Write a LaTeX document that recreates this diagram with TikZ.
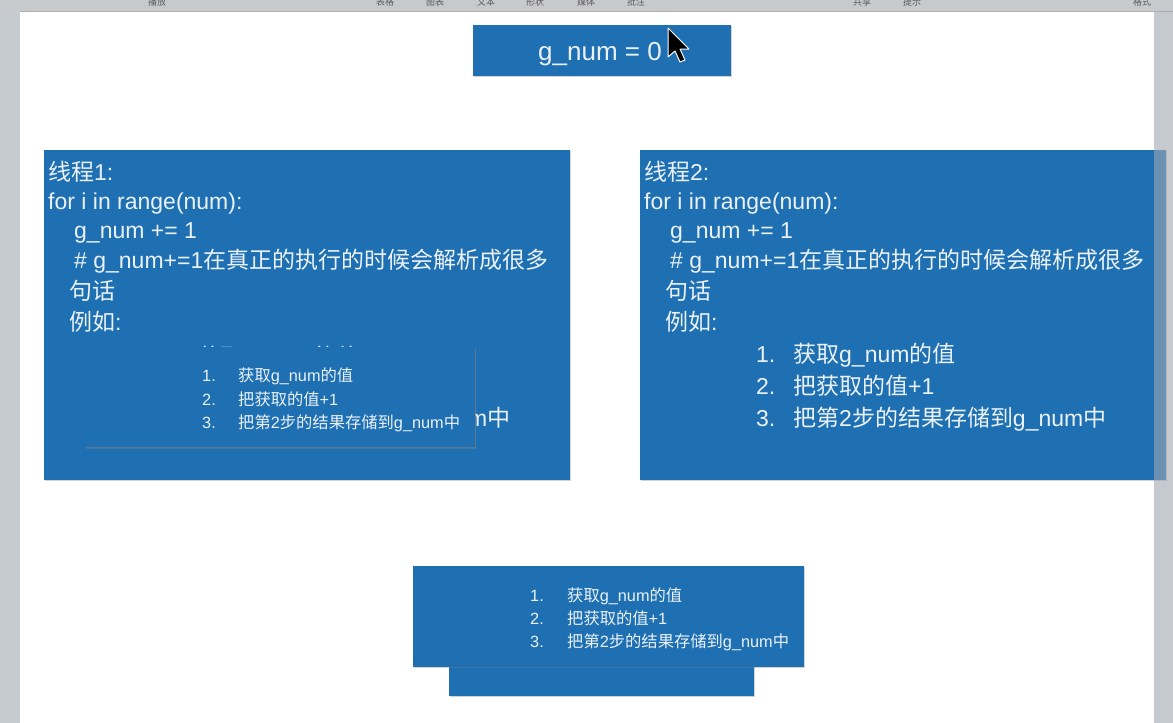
\documentclass[tikz,border=0pt]{standalone}
\usepackage{fontspec}
\setmainfont{Liberation Sans}
\newfontfamily\cjk{Noto Sans CJK SC}
\newcommand{\zh}[1]{{\cjk #1}}
\usetikzlibrary{shadows}
\definecolor{kblue}{RGB}{30,112,178}
\definecolor{ktext}{RGB}{234,241,248}
\definecolor{ktool}{RGB}{200,201,204}
\definecolor{kleft}{RGB}{198,202,209}
\definecolor{kside}{RGB}{160,167,178}
\begin{document}
\begin{tikzpicture}[x=1pt,y=-1pt,
  box/.style={fill=kblue, draw=none, inner sep=0pt, drop shadow={shadow xshift=0.8pt, shadow yshift=-1.4pt, opacity=0.35}},
  big/.style={text=ktext, font=\fontsize{23}{23}\selectfont, inner sep=0pt, anchor=base west},
  small/.style={text=ktext, font=\fontsize{16.3}{16.3}\selectfont, inner sep=0pt, anchor=base west},
  tool/.style={text=black!65, font=\cjk\fontsize{9}{9}\selectfont, inner sep=0pt},
]
\fill[white] (0,0) rectangle (1173,723);
\useasboundingbox (0,0) rectangle (1173,723);
% window chrome
\fill[ktool] (0,0) rectangle (1173,11);
\draw[black!30, line width=0.6pt] (0,11) -- (1173,11);
\fill[kleft] (0,11.3) rectangle (20,723);
\node[tool] (tb1) at (157,2.5) {播放};
\node[tool] (tb2) at (385,2.5) {表格};
\node[tool] (tb3) at (435,2.5) {图表};
\node[tool] (tb4) at (486,2.5) {文本};
\node[tool] (tb5) at (535,2.5) {形状};
\node[tool] (tb6) at (586,2.5) {媒体};
\node[tool] (tb7) at (636,2.5) {批注};
\node[tool] (tb8) at (862,2.5) {共享};
\node[tool] (tb9) at (912,2.5) {提示};
\node[tool] (tb10) at (1142,2.5) {格式};

% top box
\node[box, minimum width=258, minimum height=51] (gbox) at (602,50.5) {};
\node[big, font=\fontsize{26}{26}\selectfont] (gtxt) at (538,60) {g\_num = 0};
% cursor
\draw[fill=black, draw=white, line width=1pt, line join=round]
  (668,28) -- (668,57) -- (675,51) -- (680,62) -- (685,60) -- (680,49) -- (689,49) -- cycle;

% left box (thread 1)
\node[box, minimum width=526, minimum height=330] (t1) at (307,315) {};
\node[big] (a1) at (48,180) {\zh{线程}1:};
\node[big] (a2) at (48,209) {for i in range(num):};
\node[big] (a3) at (74,238) {g\_num += 1};
\node[big] (a4) at (74,268) {\# g\_num+=1\zh{在真正的执行的时候会解析成很多}};
\node[big] (a5) at (69,299) {\zh{句话}};
\node[big] (a6) at (69,330) {\zh{例如}:};
\node[big] (a7n) at (160,365) {1.};
\node[big] (a7) at (197,365) {\zh{获取}g\_num\zh{的值}};
\node[big] (a8n) at (160,396) {2.};
\node[big] (a8) at (197,396) {\zh{把获取的值}+1};
\node[big] (a9n) at (160,426) {3.};
\node[big] (a9) at (197,426) {\zh{把第}2\zh{步的结果存储到}g\_num\zh{中}};
% overlay copy of the list
\node[box, minimum width=390, minimum height=100, drop shadow={shadow xshift=0.6pt, shadow yshift=-2.2pt, opacity=0.4}] (ov) at (280,397) {};
\node[small] (o1n) at (202,381) {1.};
\node[small] (o1) at (238,381) {\zh{获取}g\_num\zh{的值}};
\node[small] (o2n) at (202,405) {2.};
\node[small] (o2) at (238,405) {\zh{把获取的值}+1};
\node[small] (o3n) at (202,428) {3.};
\node[small] (o3) at (238,428) {\zh{把第}2\zh{步的结果存储到}g\_num\zh{中}};

% right box (thread 2)
\node[box, minimum width=526, minimum height=330] (t2) at (903,315) {};
\node[big] (b1) at (644,180) {\zh{线程}2:};
\node[big] (b2) at (644,209) {for i in range(num):};
\node[big] (b3) at (670,238) {g\_num += 1};
\node[big] (b4) at (670,268) {\# g\_num+=1\zh{在真正的执行的时候会解析成很多}};
\node[big] (b5) at (665,299) {\zh{句话}};
\node[big] (b6) at (665,330) {\zh{例如}:};
\node[big] (b7n) at (756,362) {1.};
\node[big] (b7) at (793,362) {\zh{获取}g\_num\zh{的值}};
\node[big] (b8n) at (756,394) {2.};
\node[big] (b8) at (793,394) {\zh{把获取的值}+1};
\node[big] (b9n) at (756,426) {3.};
\node[big] (b9) at (793,426) {\zh{把第}2\zh{步的结果存储到}g\_num\zh{中}};
% right window strip
\fill[kside, opacity=0.6] (1154,11.3) rectangle (1173,723);

% bottom stack
\node[box, minimum width=305, minimum height=56] (back) at (601.5,668) {};
\node[box, minimum width=391, minimum height=101] (front) at (608.5,616.5) {};
\node[small] (c1n) at (530,601) {1.};
\node[small] (c1) at (567,601) {\zh{获取}g\_num\zh{的值}};
\node[small] (c2n) at (530,624) {2.};
\node[small] (c2) at (567,624) {\zh{把获取的值}+1};
\node[small] (c3n) at (530,647) {3.};
\node[small] (c3) at (567,647) {\zh{把第}2\zh{步的结果存储到}g\_num\zh{中}};
\end{tikzpicture}
\end{document}
